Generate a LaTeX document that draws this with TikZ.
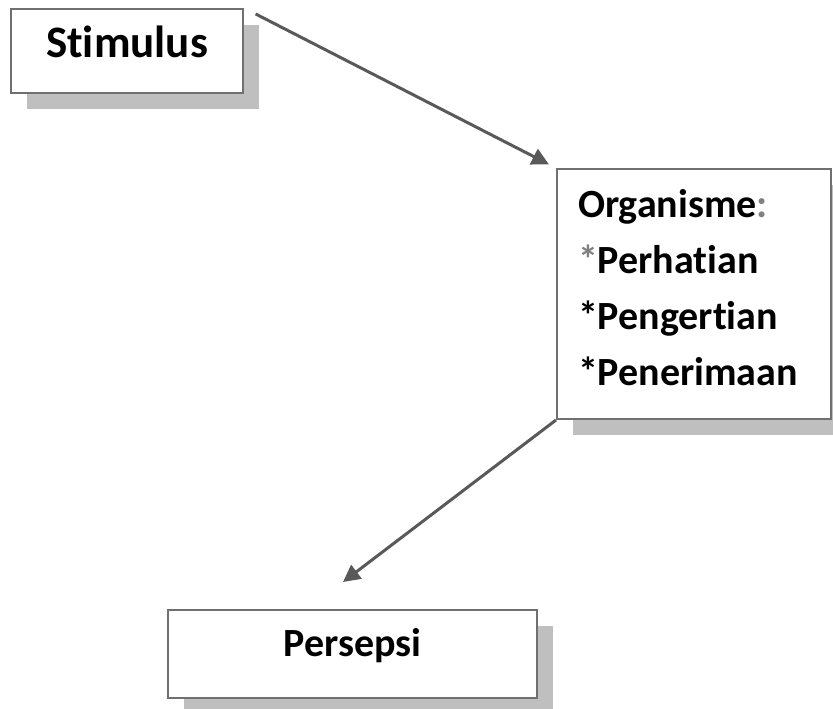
\documentclass[tikz,border=0pt]{standalone}
\usepackage{fontspec}
\setmainfont[Ligatures=NoCommon]{Carlito}
\usepackage{tikz}
\usetikzlibrary{arrows.meta,positioning,calc,shadows}
\definecolor{boxline}{HTML}{707070}
\definecolor{shadowgray}{HTML}{BFBFBF}
\definecolor{arrowgray}{HTML}{595959}
\definecolor{stargray}{HTML}{808080}

\begin{document}
\begin{tikzpicture}[
  x=1pt, y=-1pt,
  box/.style={draw=boxline, line width=2pt, fill=white, inner sep=0pt, font=\fontsize{40}{56}\selectfont\bfseries,
    drop shadow={shadow xshift=16pt, shadow yshift=-16pt, fill=shadowgray, draw=none, opacity=1}},
  arr/.style={-{Triangle[length=17pt, width=17pt]}, line width=3pt, arrowgray}
]
  \useasboundingbox (0,0) rectangle (833,709);

  \node[box, anchor=north west, minimum width=232pt, text height=49pt, text depth=35pt, font=\fontsize{45}{56}\selectfont\bfseries] (stim) at (10,8) {Stimulus};

  \node[box, anchor=north west, minimum width=274pt, minimum height=250pt, text width=232pt, inner xsep=21pt, align=left] (org) at (556,168)
    {Organisme\textcolor{stargray}{:}\\\textcolor{stargray}{*}Perhatian\\{*}Pengertian\\{*}Penerimaan\rule[-13pt]{0pt}{13pt}};

  \node[box, anchor=north, minimum width=369pt, text height=46pt, text depth=42pt] (pers) at (352.5,609) {Persepsi};

  \coordinate (ptip) at ([xshift=-9.5pt, yshift=27pt]pers.north);

  \draw[arr, shorten <=13pt, shorten >=8pt] (stim.north east) -- (org.north west);
  \draw[arr] (org.south west) -- (ptip);
\end{tikzpicture}
\end{document}
